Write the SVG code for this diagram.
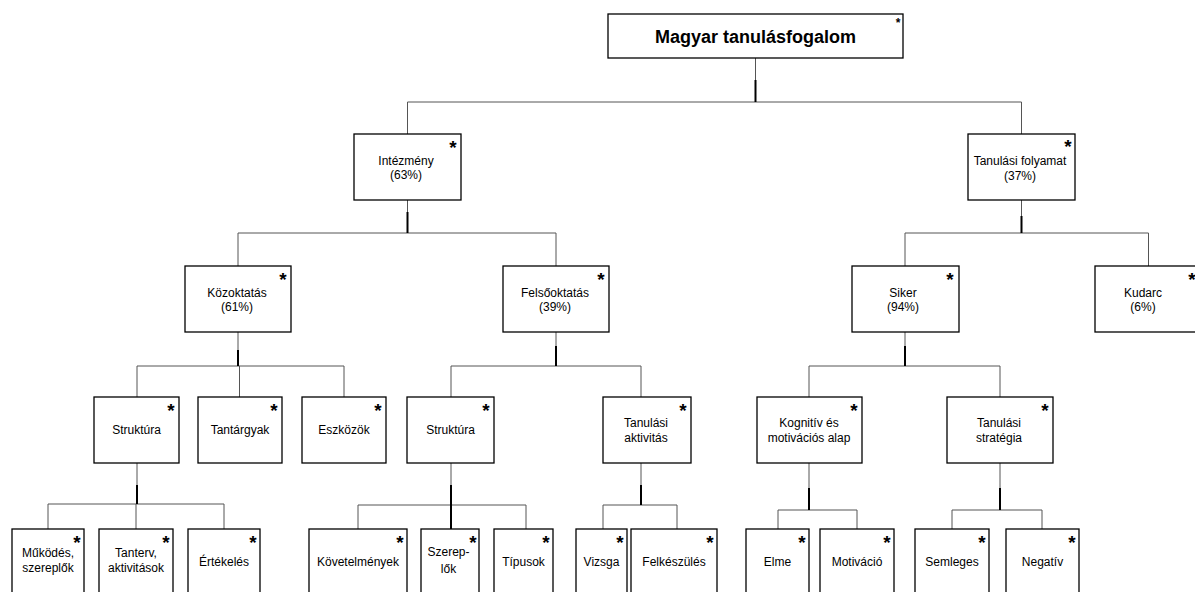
<svg xmlns="http://www.w3.org/2000/svg" width="1195" height="592" viewBox="0 0 1195 592">
<style>
.box{fill:#fff;stroke:#000;stroke-width:1.3}
.t{font-family:"Liberation Sans",Arial,sans-serif;font-size:12px;fill:#000;text-anchor:middle}
.title{font-family:"Liberation Sans",Arial,sans-serif;font-size:18px;font-weight:bold;fill:#000;text-anchor:middle}
.ast{font-family:"Liberation Sans",Arial,sans-serif;font-size:19px;font-weight:bold;fill:#000;text-anchor:middle}
.ast2{font-family:"Liberation Sans",Arial,sans-serif;font-size:12px;font-weight:bold;fill:#000;text-anchor:middle}
.ln{stroke:#555;stroke-width:1;fill:none}
.stem{stroke:#000;stroke-width:2;fill:none}
</style>
<rect width="1195" height="592" fill="#fff"/>
<g id="connectors">
<path class="ln" d="M755.5 58V80M407.5 102H1021.5M407.5 102V134M1021.5 102V134"/>
<path class="stem" d="M755.5 80V102"/>
<path class="ln" d="M407.5 200V212M238 233H556M238 233V266M556 233V266"/>
<path class="stem" d="M407.5 212V233"/>
<path class="ln" d="M1021.5 200V216M905 233H1148.5M905 233V266M1148.5 233V266"/>
<path class="stem" d="M1021.5 216V233"/>
<path class="ln" d="M238 332V350M137 366H344M137 366V397M239.5 366V397M344 366V397"/>
<path class="stem" d="M238 350V366"/>
<path class="ln" d="M556 332V346M451 366H641M451 366V397M641 366V397"/>
<path class="stem" d="M556 346V366"/>
<path class="ln" d="M905 332V346M809 366H1000M809 366V397M1000 366V397"/>
<path class="stem" d="M905 346V366"/>
<path class="ln" d="M137 463V485M48 504H224M48 504V529M136 504V529M224 504V529"/>
<path class="stem" d="M137 485V504"/>
<path class="ln" d="M451 463V485M358 505H526M358 505V529M526 505V529"/>
<path class="stem" d="M451 485V529"/>
<path class="ln" d="M641 463V485M603 505H677M603 505V529M677 505V529"/>
<path class="stem" d="M641 485V505"/>
<path class="ln" d="M809 463V488M778 510H857M778 510V529M857 510V529"/>
<path class="stem" d="M809 488V510"/>
<path class="ln" d="M1000 463V488M952 510H1042M952 510V529M1042 510V529"/>
<path class="stem" d="M1000 488V510"/>
</g>
<g id="n-root"><rect class="box" x="608" y="14" width="295" height="44"/><text class="title" x="755.5" y="43">Magyar tanulásfogalom</text><text class="ast2" x="898" y="27">*</text></g>
<g id="n-intezmeny"><rect class="box" x="354" y="134" width="107" height="66"/><text class="t" x="406" y="164.5">Intézmény</text><text class="t" x="406" y="179">(63%)</text><text class="ast" x="453" y="154">*</text></g>
<g id="n-folyamat"><rect class="box" x="968" y="134" width="107" height="66"/><text class="t" x="1020" y="165">Tanulási folyamat</text><text class="t" x="1020" y="179.5">(37%)</text><text class="ast" x="1068" y="153">*</text></g>
<g id="n-kozoktatas"><rect class="box" x="185" y="266" width="106" height="66"/><text class="t" x="237" y="296.5">Közoktatás</text><text class="t" x="237" y="311">(61%)</text><text class="ast" x="283" y="286">*</text></g>
<g id="n-felsooktatas"><rect class="box" x="503" y="266" width="106" height="66"/><text class="t" x="555" y="296.5">Felsőoktatás</text><text class="t" x="555" y="311">(39%)</text><text class="ast" x="601" y="286">*</text></g>
<g id="n-siker"><rect class="box" x="852" y="266" width="107" height="66"/><text class="t" x="903" y="296.5">Siker</text><text class="t" x="903" y="311">(94%)</text><text class="ast" x="950" y="286">*</text></g>
<g id="n-kudarc"><rect class="box" x="1095" y="266" width="107" height="66"/><text class="t" x="1143" y="296.5">Kudarc</text><text class="t" x="1143" y="311">(6%)</text><text class="ast" x="1192" y="286">*</text></g>
<g id="n-struktura1"><rect class="box" x="94" y="397" width="85" height="66"/><text class="t" x="136.5" y="434">Struktúra</text><text class="ast" x="171" y="417">*</text></g>
<g id="n-tantargyak"><rect class="box" x="198" y="397" width="84" height="66"/><text class="t" x="240" y="434">Tantárgyak</text><text class="ast" x="274" y="417">*</text></g>
<g id="n-eszkozok"><rect class="box" x="302" y="397" width="84" height="66"/><text class="t" x="344" y="434">Eszközök</text><text class="ast" x="378" y="417">*</text></g>
<g id="n-struktura2"><rect class="box" x="407" y="397" width="87" height="66"/><text class="t" x="450.5" y="434">Struktúra</text><text class="ast" x="486" y="417">*</text></g>
<g id="n-aktivitas"><rect class="box" x="603" y="397" width="88" height="66"/><text class="t" x="646" y="427">Tanulási</text><text class="t" x="646" y="441.5">aktivitás</text><text class="ast" x="683" y="417">*</text></g>
<g id="n-kognitiv"><rect class="box" x="757" y="397" width="105" height="66"/><text class="t" x="809" y="427">Kognitív és</text><text class="t" x="809" y="441.5">motivációs alap</text><text class="ast" x="854" y="417">*</text></g>
<g id="n-strategia"><rect class="box" x="947" y="397" width="106" height="66"/><text class="t" x="999" y="427">Tanulási</text><text class="t" x="999" y="441.5">stratégia</text><text class="ast" x="1045" y="417">*</text></g>
<g id="n-mukodes"><rect class="box" x="12" y="529" width="72" height="66"/><text class="t" x="48" y="557">Működés,</text><text class="t" x="48" y="572">szereplők</text><text class="ast" x="77" y="549">*</text></g>
<g id="n-tanterv"><rect class="box" x="99" y="529" width="74" height="66"/><text class="t" x="136" y="557">Tanterv,</text><text class="t" x="136" y="572">aktivitások</text><text class="ast" x="166" y="549">*</text></g>
<g id="n-ertekeles"><rect class="box" x="188" y="529" width="72" height="66"/><text class="t" x="224" y="566">Értékelés</text><text class="ast" x="253" y="549">*</text></g>
<g id="n-kovetelmenyek"><rect class="box" x="309" y="529" width="98" height="66"/><text class="t" x="358" y="566">Követelmények</text><text class="ast" x="400" y="549">*</text></g>
<g id="n-szereplok"><rect class="box" x="421" y="529" width="58" height="66"/><text class="t" x="448.5" y="556">Szerep-</text><text class="t" x="448.5" y="573">lők</text><text class="ast" x="473" y="549">*</text></g>
<g id="n-tipusok"><rect class="box" x="494" y="529" width="59" height="66"/><text class="t" x="523.5" y="566">Típusok</text><text class="ast" x="546" y="549">*</text></g>
<g id="n-vizsga"><rect class="box" x="576" y="529" width="51" height="66"/><text class="t" x="601.5" y="566">Vizsga</text><text class="ast" x="620" y="549">*</text></g>
<g id="n-felkeszules"><rect class="box" x="631" y="529" width="86" height="66"/><text class="t" x="674" y="566">Felkészülés</text><text class="ast" x="710" y="549">*</text></g>
<g id="n-elme"><rect class="box" x="746" y="529" width="63" height="66"/><text class="t" x="777.5" y="566">Elme</text><text class="ast" x="802" y="549">*</text></g>
<g id="n-motivacio"><rect class="box" x="820" y="529" width="74" height="66"/><text class="t" x="857" y="566">Motiváció</text><text class="ast" x="887" y="549">*</text></g>
<g id="n-semleges"><rect class="box" x="915" y="529" width="74" height="66"/><text class="t" x="952" y="566">Semleges</text><text class="ast" x="982" y="549">*</text></g>
<g id="n-negativ"><rect class="box" x="1006" y="529" width="73" height="66"/><text class="t" x="1042.5" y="566">Negatív</text><text class="ast" x="1072" y="549">*</text></g>
</svg>
